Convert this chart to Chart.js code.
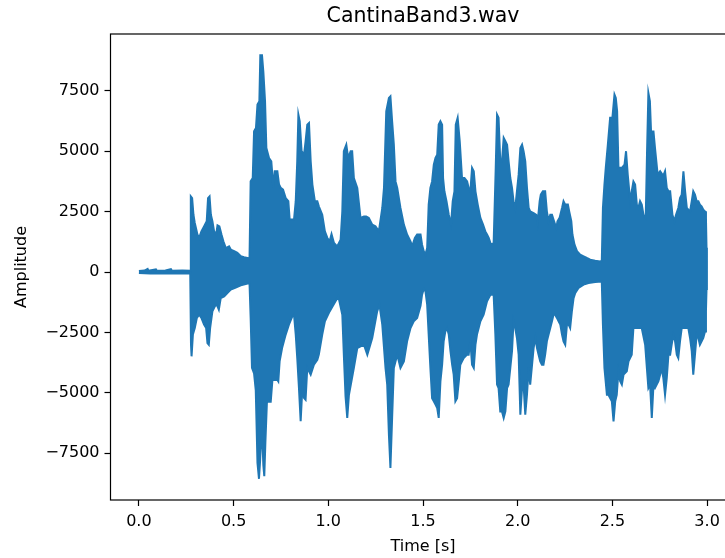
<!DOCTYPE html>
<html><head><meta charset="utf-8">
<script src="https://cdn.jsdelivr.net/npm/chart.js@4.4.1/dist/chart.umd.min.js"></script>
<style>html,body{margin:0;padding:0;background:#fff;overflow:hidden;width:725px;height:558px}canvas{display:block}</style>
</head><body>
<canvas id="c" width="760" height="558"></canvas>
<script>
const chartTitle = "CantinaBand3.wav";
const xLabel = "Time [s]";
const yLabel = "Amplitude";
const xTickValues = [0, 0.5, 1.0, 1.5, 2.0, 2.5, 3.0];
const yTickValues = [-7500, -5000, -2500, 0, 2500, 5000, 7500];

// upper envelope of the waveform (time in s, amplitude)
const upperTimes = [0.000,0.030,0.046,0.050,0.090,0.095,0.140,0.169,0.175,0.230,0.271,
0.274,0.281,0.288,0.295,0.309,0.318,0.330,0.344,0.358,0.365,0.373,0.380,0.388,0.397,0.408,0.415,0.425,0.436,0.446,0.459,0.476,0.485,0.503,0.520,0.538,0.555,0.573,0.584,
0.590,0.601,0.608,0.618,0.626,0.636,0.641,0.650,0.657,0.666,0.673,0.687,0.699,0.710,0.717,
0.722,0.731,0.740,0.749,0.761,0.775,0.789,0.796,0.819,0.828,0.836,0.842,0.849,0.859,0.872,0.880,0.889,0.898,0.907,0.916,0.929,0.942,0.950,0.968,0.982,0.995,1.007,1.017,1.030,1.047,1.065,1.074,1.082,1.095,1.105,1.118,1.126,1.135,1.153,1.170,1.188,1.200,1.214,1.232,1.249,1.267,1.285,1.294,1.306,1.320,1.328,1.337,1.346,1.355,1.364,1.381,1.399,1.416,1.434,1.443,1.457,1.469,
1.487,1.495,1.504,1.513,1.522,1.530,1.539,1.548,1.557,1.566,1.575,1.583,1.592,1.601,1.606,1.613,1.624,1.636,1.648,1.657,1.666,1.673,1.683,1.694,1.706,1.719,1.733,1.741,1.750,1.759,1.768,1.777,1.789,1.803,1.817,1.829,1.838,1.847,1.859,1.873,1.884,1.891,1.899,1.908,1.917,1.926,1.935,1.944,1.952,1.961,1.970,1.978,1.987,1.996,2.005,2.014,2.023,2.031,2.040,2.049,2.058,2.066,2.084,2.098,2.105,2.116,2.122,2.133,2.145,2.154,2.163,2.172,2.181,2.189,2.204,2.210,2.221,2.234,2.242,2.251,
2.260,2.265,2.272,2.283,2.289,2.300,2.313,2.330,2.348,2.365,2.383,2.409,2.435,2.444,2.450,2.458,2.465,2.476,2.488,2.500,2.511,2.518,2.525,2.532,2.550,2.564,2.572,2.581,2.594,2.602,2.611,2.620,2.629,2.637,2.646,2.655,2.664,2.676,2.683,2.690,2.698,2.704,2.717,2.725,2.739,2.752,2.764,2.771,2.778,2.787,2.796,2.805,2.817,2.827,2.836,2.848,2.857,2.866,2.875,2.884,2.893,2.901,2.910,2.919,2.927,2.936,2.945,2.954,2.962,2.971,2.980,2.989,2.994,2.997,2.999];
const upperAmps = [40,60,130,50,110,50,60,120,50,60,50,
3130,3060,2370,2030,1550,1410,1680,1890,2100,3060,3130,2370,2100,1680,1550,1930,1890,1550,1270,990,1060,930,860,790,650,610,580,550,
3750,3890,5820,5960,6930,7070,8970,8970,8300,7070,5130,4720,4580,3480,4170,
4170,4170,3620,3480,3410,3060,2930,2170,2170,2930,4580,6510,6240,5000,4860,5410,6100,6170,4580,3620,2930,2930,2720,2370,1680,1410,1270,1570,1200,1060,1340,2510,5000,5270,4720,5000,5000,3890,3480,2240,2300,2300,2240,1960,1890,1680,2650,3480,6650,7200,7270,6240,5270,3750,3480,2650,1960,1550,1270,1060,1410,1550,
1550,1130,860,720,990,2790,3480,3750,4440,4720,4860,6100,6240,6100,3890,3340,2930,2370,1960,2930,3340,6100,6380,5410,3890,3890,3750,3480,3340,4310,4170,3340,2790,2240,1960,1680,1550,1410,1130,1200,4310,6510,6380,4580,4580,5550,5410,5270,4580,3890,3480,2930,2650,3340,4030,5130,5270,5000,4580,3480,2650,2510,2440,2370,2030,2930,3200,3340,3340,2510,2100,2370,2370,2170,1820,2100,2240,2650,2930,2790,
2790,2790,2510,2100,1550,1130,860,720,650,580,510,470,440,440,2650,3620,4310,5270,6380,6380,7340,7200,6650,4310,4310,4440,5000,4030,2930,3340,3750,3620,2790,2650,2930,2790,2370,2240,5000,7410,7070,5820,5820,5130,4030,4170,4030,4030,4170,3480,3340,3340,2370,2100,2370,2650,3060,3200,4170,3340,2650,2580,2510,2930,3340,3200,2930,2930,2790,2720,2580,2510,2240,1000,0];

// lower envelope of the waveform (time in s, amplitude)
const lowerTimes = [0.000,0.060,0.120,0.200,0.271,
0.275,0.278,0.285,0.295,0.306,0.318,0.330,0.344,0.355,0.362,0.369,0.376,0.388,0.401,0.411,0.422,0.432,0.450,0.467,0.485,0.511,0.538,0.564,0.584,
0.590,0.597,0.608,0.617,0.626,0.634,0.640,0.645,0.652,0.657,0.662,0.668,0.676,0.696,0.705,0.731,
0.736,0.743,0.756,0.775,0.792,0.810,0.819,0.828,0.836,0.845,0.854,0.863,0.872,0.880,0.889,0.907,0.924,0.942,0.950,0.968,0.982,1.007,1.038,1.053,1.074,1.082,1.091,1.100,1.109,1.135,1.153,1.188,1.206,1.232,1.258,1.270,1.285,1.302,1.311,1.320,1.328,1.337,1.346,1.364,1.381,1.399,1.416,1.434,1.451,1.469,
1.487,1.495,1.504,1.513,1.522,1.530,1.539,1.548,1.557,1.566,1.575,1.583,1.592,1.601,1.609,1.618,1.627,1.636,1.645,1.654,1.662,1.671,1.680,1.689,1.697,1.706,1.715,1.733,1.741,1.750,1.759,1.768,1.777,1.785,1.794,1.803,1.820,1.829,1.838,1.856,1.873,1.882,1.891,1.899,1.908,1.917,1.926,1.935,1.944,1.952,1.961,1.970,1.978,1.987,1.996,2.005,2.014,2.023,2.031,2.040,2.049,2.058,2.066,2.084,2.093,2.102,2.110,2.119,2.128,2.136,2.145,2.154,2.163,2.172,2.181,2.189,2.198,2.207,2.216,2.225,2.234,2.242,2.251,
2.260,2.269,2.277,2.286,2.295,2.304,2.321,2.348,2.374,2.409,2.444,2.450,2.458,2.471,2.479,2.497,2.506,2.515,2.523,2.532,2.541,2.550,2.559,2.576,2.585,2.602,2.611,2.655,2.673,2.682,2.690,2.699,2.708,2.717,2.725,2.743,2.752,2.760,2.769,2.778,2.787,2.796,2.805,2.813,2.822,2.831,2.840,2.848,2.857,2.866,2.901,2.910,2.919,2.927,2.936,2.945,2.954,2.962,2.980,2.989,2.994,2.997,2.999];
const lowerAmps = [-40,-60,-50,-60,-50,
-3000,-3490,-2590,-2320,-1900,-1770,-1900,-2180,-2320,-2940,-3010,-2320,-1630,-1420,-1350,-1560,-1080,-1010,-870,-730,-640,-550,-500,-460,
-1900,-3970,-4200,-4900,-7900,-8560,-7800,-6950,-6950,-8000,-8450,-7000,-5370,-5370,-4470,-4470,
-4530,-3700,-3150,-2590,-2180,-1840,-1770,-2590,-3560,-4800,-6180,-4800,-5220,-5290,-3970,-4250,-3840,-3630,-3420,-2590,-2040,-1630,-1210,-1010,-1770,-3420,-5150,-6040,-5080,-3970,-3150,-3010,-3420,-2730,-1630,-1350,-2180,-3970,-4660,-6730,-8110,-6040,-3970,-3420,-3970,-3700,-2870,-2320,-2040,-1900,
-1400,-940,-700,-800,-1350,-2590,-3970,-5220,-5350,-5490,-5630,-6040,-4530,-3840,-2870,-2460,-2320,-2590,-3280,-3840,-4250,-5350,-5220,-4530,-3840,-3700,-3560,-3420,-3420,-2870,-3840,-3970,-3010,-2590,-2320,-2040,-1770,-1490,-1210,-940,-940,-2590,-4660,-4800,-5770,-5770,-6040,-5770,-4800,-4660,-3970,-3280,-2040,-2320,-2730,-3420,-5910,-4800,-4660,-5910,-5080,-3970,-4660,-3150,-2730,-3150,-3420,-3700,-3840,-3840,-3420,-2870,-2590,-2320,-2040,-1770,-1770,-1900,-2040,-2180,-2590,-2870,-3010,
-2180,-2180,-2320,-1630,-1080,-870,-660,-520,-460,-410,-390,-2180,-3970,-5080,-5080,-5350,-6180,-5350,-5080,-4110,-4520,-4660,-4250,-4110,-3700,-3420,-2320,-2320,-3010,-3970,-4800,-4660,-6040,-4660,-4800,-4520,-4250,-3970,-4390,-5080,-4390,-3420,-3420,-3010,-2590,-2870,-3420,-3560,-2870,-2320,-2320,-2730,-3280,-4250,-3420,-2590,-2730,-3010,-2730,-2460,-1630,-700,0];

if (upperTimes.length !== upperAmps.length || lowerTimes.length !== lowerAmps.length) {
  console.error('length mismatch', upperTimes.length, upperAmps.length, lowerTimes.length, lowerAmps.length);
}

const lineColor = '#1f77b4';
const fontFamily = "'DejaVu Sans', sans-serif";

const spinePlugin = {
  id: 'spines',
  afterDraw(chart) {
    const a = chart.chartArea, ctx = chart.ctx;
    ctx.save();
    ctx.strokeStyle = '#000';
    ctx.lineWidth = 1.2;
    ctx.strokeRect(a.left, a.top, a.right - a.left, a.bottom - a.top);
    ctx.restore();
  }
};

new Chart(document.getElementById('c').getContext('2d'), {
  type: 'line',
  data: {
    datasets: [
      { data: upperTimes.map((t, i) => ({ x: t, y: upperAmps[i] })),
        borderColor: lineColor, backgroundColor: lineColor, borderWidth: 2,
        pointRadius: 0, tension: 0, fill: 'origin' },
      { data: lowerTimes.map((t, i) => ({ x: t, y: lowerAmps[i] })),
        borderColor: lineColor, backgroundColor: lineColor, borderWidth: 2,
        pointRadius: 0, tension: 0, fill: 'origin' }
    ]
  },
  options: {
    responsive: false, animation: false, devicePixelRatio: 1,
    layout: { padding: { left: 0, right: 24.5, top: 0, bottom: 0 } },
    plugins: {
      legend: { display: false }, tooltip: { enabled: false },
      title: { display: true, text: chartTitle, color: '#000', fullSize: false,
        font: { family: fontFamily, size: 20.5, weight: 'normal', lineHeight: 1.2 },
        padding: { top: 4, bottom: 5.4 } }
    },
    scales: {
      x: {
        type: 'linear', min: -0.15, max: 3.15,
        afterBuildTicks: s => { s.ticks = xTickValues.map(v => ({ value: v })); },
        afterFit: s => { s.height = 58; },
        ticks: { callback: v => Number(v).toFixed(1), color: '#000', autoSkip: false, maxRotation: 0,
          font: { family: fontFamily, size: 16 }, padding: 6 },
        grid: { drawOnChartArea: false, tickLength: 6, tickColor: '#000', tickWidth: 1.2 },
        border: { display: false },
        title: { display: true, text: xLabel, color: '#000', font: { family: fontFamily, size: 16 },
          padding: { top: 0, bottom: 2 } }
      },
      y: {
        type: 'linear', min: -9437, max: 9851,
        afterBuildTicks: s => { s.ticks = yTickValues.map(v => ({ value: v })); },
        afterFit: s => { s.width = 110.5; },
        ticks: { callback: v => (v < 0 ? '\u2212' + Math.abs(v) : String(v)), color: '#000', autoSkip: false,
          font: { family: fontFamily, size: 16 }, padding: 5 },
        grid: { drawOnChartArea: false, tickLength: 6, tickColor: '#000', tickWidth: 1.2 },
        border: { display: false },
        title: { display: true, text: yLabel, color: '#000', font: { family: fontFamily, size: 16 },
          padding: { top: 12, bottom: 0 } }
      }
    }
  },
  plugins: [spinePlugin]
});
</script>
</body></html>
